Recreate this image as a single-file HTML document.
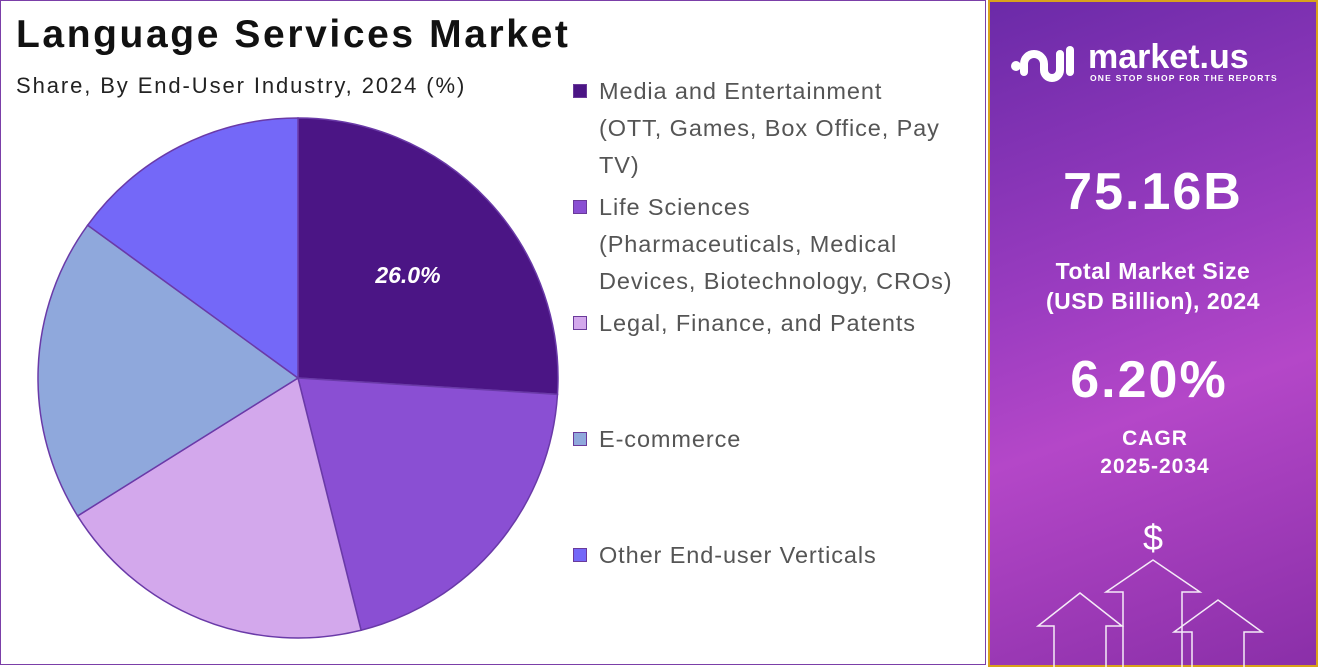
<!DOCTYPE html>
<html><head><meta charset="utf-8"><style>
body{margin:0;width:1318px;height:667px;overflow:hidden;background:#fff;font-family:"Liberation Sans",sans-serif;position:relative}
#left{position:absolute;left:0;top:0;width:986px;height:665px;border:1px solid #7b3fa8;box-sizing:border-box}
h1{position:absolute;left:15px;top:12px;margin:0;font-size:39px;font-weight:bold;color:#111;letter-spacing:2.6px;white-space:nowrap}
.sub{position:absolute;left:15px;top:72px;font-size:22px;color:#222;letter-spacing:1.9px;white-space:nowrap}
.leg{position:absolute;left:572px;font-size:23.5px;color:#555;line-height:37px;width:420px;letter-spacing:0.9px;white-space:nowrap}
.leg i{position:absolute;left:0;top:11px;width:14px;height:14px;border:1px solid #6a3a9a;box-sizing:border-box}
.leg span{display:block;padding-left:26px}
#right{position:absolute;left:988px;top:0;width:330px;height:667px;border:2px solid #d9a21b;box-sizing:border-box;background:linear-gradient(160deg,#6b2aa8 0%,#9a3cc0 40%,#b447c8 60%,#8a2fa8 100%);color:#fff;text-align:center;font-weight:bold}
</style></head><body>
<div id="left">
<h1>Language Services Market</h1>
<div class="sub">Share, By End-User Industry, 2024 (%)</div>
<svg id="pie" width="600" height="667" style="position:absolute;left:0;top:0"></svg>
<div class="leg" style="top:72px"><i style="background:#4b1585"></i><span>Media and Entertainment<br>(OTT, Games, Box Office, Pay<br>TV)</span></div>
<div class="leg" style="top:188px"><i style="background:#8a4fd3"></i><span>Life Sciences<br>(Pharmaceuticals, Medical<br>Devices, Biotechnology, CROs)</span></div>
<div class="leg" style="top:304px"><i style="background:#d3a8ec"></i><span>Legal, Finance, and Patents</span></div>
<div class="leg" style="top:420px"><i style="background:#8fa8dc"></i><span>E-commerce</span></div>
<div class="leg" style="top:536px"><i style="background:#7468f8"></i><span>Other End-user Verticals</span></div>
</div>
<div id="right">
<div style="position:absolute;left:20px;top:38px;width:70px;height:44px">
<svg width="70" height="44"><circle cx="6" cy="26" r="5" fill="#fff"/><path d="M14 32 V24 a10 10 0 0 1 20 0 V30 a8 8 0 0 0 16 0 V14" stroke="#fff" stroke-width="8" fill="none" stroke-linecap="round"/><path d="M60 10 V32" stroke="#fff" stroke-width="8" stroke-linecap="round"/></svg></div>
<div style="position:absolute;left:98px;top:36px;font-size:34px;letter-spacing:0px">market.us</div>
<div style="position:absolute;left:100px;top:71px;font-size:8.5px;letter-spacing:1.2px">ONE STOP SHOP FOR THE REPORTS</div>
<div style="position:absolute;left:0;width:326px;top:160px;font-size:52px;letter-spacing:2px">75.16B</div>
<div style="position:absolute;left:0;width:326px;top:254px;font-size:23px;line-height:30px;letter-spacing:0.5px">Total Market Size<br>(USD Billion), 2024</div>
<div style="position:absolute;left:0;width:318px;top:348px;font-size:52px;letter-spacing:2px">6.20%</div>
<div style="position:absolute;left:0;width:330px;top:423px;font-size:21px;line-height:28px;letter-spacing:1px">CAGR<br>2025-2034</div>
<div style="position:absolute;left:0;width:326px;top:515px;font-size:36px;font-weight:normal">$</div>
<svg width="330" height="667" style="position:absolute;left:-2px;top:-2px">
<g fill="none" stroke="#fff" stroke-width="1.5" opacity="0.9">
<path d="M66 667 V626 H50 L92 593 L134 626 H118 V667"/>
<path d="M135 667 V592 H118 L165 560 L212 592 H194 V667"/>
<path d="M204 667 V632 H186 L230 600 L274 632 H256 V667"/></g></svg>
</div>
<script>
const categories=["Media and Entertainment","Life Sciences","Legal, Finance, and Patents","E-commerce","Other End-user Verticals"];
const values=[26.0,20.1,20.0,18.9,15.0];
const labels=["26.0%","","","",""];
const colors=["#4b1585","#8a4fd3","#d3a8ec","#8fa8dc","#7468f8"];
const svg=document.getElementById('pie');const NS='http://www.w3.org/2000/svg';
const cx=297,cy=377,r=260;const total=values.reduce((a,b)=>a+b,0);
function pt(a,rr){return [cx+rr*Math.sin(a),cy-rr*Math.cos(a)];}
let a0=0;
values.forEach((v,i)=>{const a1=a0+v/total*2*Math.PI;const p0=pt(a0,r),p1=pt(a1,r);
const p=document.createElementNS(NS,'path');
p.setAttribute('d',`M${cx},${cy} L${p0[0]},${p0[1]} A${r},${r} 0 ${a1-a0>Math.PI?1:0} 1 ${p1[0]},${p1[1]} Z`);
p.setAttribute('fill',colors[i]);p.setAttribute('stroke','#6a3aa8');p.setAttribute('stroke-width','1.5');


svg.appendChild(p);
if(labels[i]){const m=pt((a0+a1)/2,r*0.58);const t=document.createElementNS(NS,'text');
t.setAttribute('x',m[0]);t.setAttribute('y',m[1]+8);t.setAttribute('text-anchor','middle');t.setAttribute('fill','#fff');
t.setAttribute('font-size','23');t.setAttribute('font-weight','bold');t.setAttribute('font-style','italic');t.textContent=labels[i];


svg.appendChild(t);}
a0=a1;});
</script>
</body></html>
